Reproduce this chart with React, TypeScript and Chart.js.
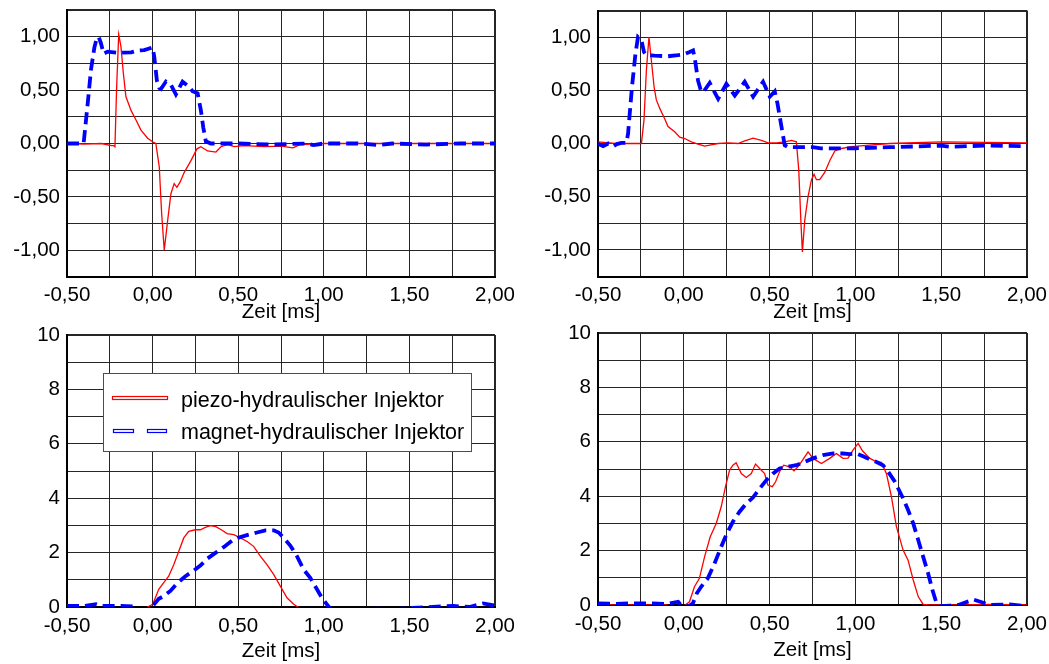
import React, { useEffect, useRef } from 'react';
import { Chart, registerables } from 'chart.js';

Chart.register(...registerables);

// ---------- text ----------
const seriesNames = ['piezo-hydraulischer Injektor', 'magnet-hydraulischer Injektor'];
const axisTitle = 'Zeit [ms]';
const xLabelValues = [-0.5, 0, 0.5, 1.0, 1.5, 2.0];
const xLabelTexts = ['-0,50', '0,00', '0,50', '1,00', '1,50', '2,00'];
const topYLabelValues = [-1, -0.5, 0, 0.5, 1];
const topYLabelTexts = ['-1,00', '-0,50', '0,00', '0,50', '1,00'];
const bottomYLabelValues = [0, 2, 4, 6, 8, 10];
const bottomYLabelTexts = ['0', '2', '4', '6', '8', '10'];

// ---------- top-left ----------
const tlMagnetT = [-0.5, -0.45, -0.403, -0.379, -0.36, -0.34, -0.327, -0.315, -0.302, -0.286, -0.263, -0.204, -0.126, -0.088, -0.049, -0.02, 0.0, 0.01, 0.025, 0.039, 0.049, 0.078, 0.107, 0.136, 0.175, 0.214, 0.233, 0.263, 0.282, 0.296, 0.311, 0.34, 0.5, 0.7, 0.9, 0.94, 1.0, 1.2, 1.32, 1.4, 1.6, 1.8, 2.0];
const tlMagnetV = [0.0, 0.0, 0.0, 0.375, 0.69, 0.9, 0.98, 1.0, 0.94, 0.84, 0.86, 0.85, 0.853, 0.87, 0.875, 0.89, 0.9, 0.81, 0.59, 0.52, 0.51, 0.58, 0.55, 0.46, 0.58, 0.53, 0.49, 0.47, 0.31, 0.15, 0.02, 0.0, 0.0, -0.01, 0.0, -0.015, 0.0, 0.0, -0.015, 0.0, -0.01, 0.0, 0.0];
const tlPiezoT = [-0.5, -0.4, -0.3, -0.24, -0.228, -0.22, -0.21, -0.198, -0.185, -0.171, -0.156, -0.126, -0.097, -0.068, -0.029, 0.0, 0.019, 0.039, 0.053, 0.068, 0.088, 0.107, 0.126, 0.142, 0.161, 0.185, 0.224, 0.259, 0.282, 0.321, 0.37, 0.399, 0.438, 0.477, 0.535, 0.652, 0.75, 0.82, 0.86, 1.0, 1.5, 2.0];
const tlPiezoV = [0.0, -0.005, 0.0, -0.02, -0.02, -0.03, 0.53, 1.02, 0.91, 0.66, 0.44, 0.31, 0.22, 0.125, 0.05, 0.016, 0.0, -0.22, -0.66, -1.0, -0.72, -0.47, -0.375, -0.41, -0.36, -0.27, -0.16, -0.05, -0.03, -0.07, -0.08, -0.03, -0.01, -0.03, -0.02, -0.03, -0.025, -0.04, -0.01, 0.0, 0.0, 0.0];

// ---------- top-right ----------
const trMagnetT = [-0.5, -0.49, -0.47, -0.44, -0.41, -0.39, -0.364, -0.335, -0.325, -0.302, -0.282, -0.267, -0.247, -0.232, -0.218, -0.17, -0.092, -0.034, 0.005, 0.034, 0.054, 0.064, 0.083, 0.099, 0.112, 0.151, 0.2, 0.248, 0.297, 0.355, 0.404, 0.462, 0.501, 0.53, 0.546, 0.569, 0.588, 0.608, 0.75, 0.8, 1.0, 1.2, 1.5, 1.55, 1.75, 2.0];
const trMagnetV = [0.0, -0.01, -0.025, 0.0, -0.025, -0.005, 0.005, 0.005, 0.09, 0.53, 0.84, 1.0, 0.97, 0.86, 0.83, 0.825, 0.82, 0.83, 0.84, 0.86, 0.875, 0.8, 0.59, 0.5, 0.48, 0.57, 0.42, 0.56, 0.45, 0.58, 0.44, 0.58, 0.44, 0.49, 0.375, 0.16, -0.016, -0.035, -0.035, -0.045, -0.045, -0.035, -0.02, -0.03, -0.02, -0.025];
const trPiezoT = [-0.5, -0.4, -0.3, -0.247, -0.232, -0.218, -0.203, -0.189, -0.173, -0.16, -0.14, -0.111, -0.092, -0.053, -0.024, 0.005, 0.044, 0.083, 0.122, 0.151, 0.2, 0.258, 0.316, 0.355, 0.404, 0.452, 0.491, 0.54, 0.588, 0.627, 0.656, 0.67, 0.682, 0.691, 0.705, 0.724, 0.744, 0.759, 0.773, 0.792, 0.822, 0.851, 0.88, 0.919, 0.977, 1.2, 1.5, 1.75, 2.0];
const trPiezoV = [0.015, 0.0, 0.0, 0.0, 0.22, 0.69, 1.0, 0.78, 0.53, 0.41, 0.33, 0.23, 0.16, 0.11, 0.06, 0.047, 0.016, -0.005, -0.025, -0.016, 0.0, 0.006, 0.0, 0.025, 0.05, 0.03, 0.006, 0.006, 0.016, 0.03, 0.016, -0.25, -0.72, -1.02, -0.72, -0.5, -0.34, -0.29, -0.34, -0.34, -0.27, -0.16, -0.07, -0.047, -0.03, 0.0, 0.015, 0.01, 0.005];

// ---------- bottom-left ----------
const blMagnetT = [-0.5, -0.4, -0.33, -0.3, -0.2, -0.1, -0.053, -0.032, 0.001, 0.036, 0.065, 0.104, 0.143, 0.192, 0.24, 0.279, 0.318, 0.367, 0.415, 0.464, 0.513, 0.561, 0.61, 0.659, 0.707, 0.736, 0.766, 0.804, 0.843, 0.882, 0.921, 0.96, 0.989, 1.018, 1.038, 1.077, 1.135, 1.3, 1.407, 1.55, 1.757, 1.85, 1.93, 2.0];
const blMagnetV = [0.04, 0.04, 0.1, 0.04, 0.04, 0.02, -0.15, -0.12, 0.04, 0.3, 0.4, 0.59, 0.87, 1.13, 1.34, 1.52, 1.77, 1.99, 2.2, 2.44, 2.57, 2.66, 2.74, 2.82, 2.82, 2.74, 2.54, 2.26, 1.87, 1.38, 1.07, 0.65, 0.34, 0.1, -0.06, -0.11, -0.1, -0.06, -0.08, -0.02, 0.04, 0.0, 0.13, 0.05];
const blPiezoT = [-0.5, -0.4, -0.3, -0.2, -0.12, -0.07, -0.03, 0.001, 0.036, 0.065, 0.094, 0.124, 0.153, 0.182, 0.211, 0.25, 0.279, 0.308, 0.338, 0.367, 0.406, 0.435, 0.474, 0.513, 0.552, 0.59, 0.629, 0.668, 0.707, 0.746, 0.785, 0.824, 0.863, 0.94, 1.057, 1.2, 1.4, 1.6, 1.8, 2.0];
const blPiezoV = [-0.05, -0.02, -0.08, -0.05, -0.1, -0.15, 0.0, 0.1, 0.65, 0.9, 1.13, 1.56, 2.05, 2.54, 2.78, 2.84, 2.84, 2.93, 2.99, 2.96, 2.82, 2.7, 2.66, 2.54, 2.41, 2.23, 1.87, 1.56, 1.2, 0.77, 0.34, 0.1, -0.06, -0.08, -0.08, -0.1, -0.06, -0.1, -0.08, -0.1];

// ---------- bottom-right ----------
const brMagnetT = [-0.5, -0.4, -0.3, -0.2, -0.1, -0.033, -0.01, 0.01, 0.03, 0.053, 0.076, 0.101, 0.14, 0.179, 0.218, 0.251, 0.286, 0.325, 0.364, 0.403, 0.442, 0.481, 0.519, 0.558, 0.607, 0.656, 0.704, 0.753, 0.811, 0.87, 0.928, 0.967, 1.006, 1.045, 1.084, 1.123, 1.161, 1.191, 1.23, 1.278, 1.307, 1.337, 1.366, 1.395, 1.424, 1.449, 1.473, 1.492, 1.551, 1.6, 1.689, 1.786, 1.9, 2.0];
const brMagnetV = [0.06, 0.04, 0.06, 0.06, 0.04, 0.12, -0.06, -0.06, -0.04, 0.06, 0.43, 0.67, 0.98, 1.53, 2.14, 2.63, 3.06, 3.43, 3.73, 3.95, 4.28, 4.59, 4.83, 5.02, 5.08, 5.14, 5.26, 5.39, 5.51, 5.57, 5.57, 5.55, 5.57, 5.47, 5.35, 5.26, 5.14, 4.9, 4.53, 3.92, 3.49, 3.0, 2.39, 1.77, 1.16, 0.55, 0.06, -0.04, -0.02, 0.0, 0.2, 0.0, 0.02, -0.05];
const brPiezoT = [-0.5, -0.3, -0.1, -0.055, 0.0, 0.033, 0.062, 0.091, 0.121, 0.154, 0.189, 0.218, 0.243, 0.267, 0.286, 0.305, 0.335, 0.364, 0.393, 0.418, 0.442, 0.471, 0.49, 0.516, 0.535, 0.558, 0.582, 0.617, 0.642, 0.665, 0.695, 0.724, 0.753, 0.802, 0.85, 0.889, 0.928, 0.957, 0.986, 1.016, 1.041, 1.084, 1.123, 1.152, 1.181, 1.21, 1.239, 1.278, 1.307, 1.337, 1.366, 1.395, 1.434, 1.6, 1.8, 2.0];
const brPiezoV = [0.0, 0.0, 0.0, -0.08, -0.04, 0.12, 0.67, 0.98, 1.77, 2.51, 3.0, 3.61, 4.35, 4.96, 5.14, 5.23, 4.83, 4.69, 4.83, 5.18, 5.02, 4.83, 4.41, 4.35, 4.53, 4.9, 5.14, 5.08, 4.93, 5.08, 5.35, 5.63, 5.39, 5.2, 5.39, 5.57, 5.39, 5.4, 5.69, 5.94, 5.67, 5.39, 5.26, 5.24, 4.83, 3.98, 2.88, 2.02, 1.65, 0.92, 0.31, 0.02, 0.0, 0.0, 0.02, 0.0];

// ---------- layout / style ----------
const PAGE_W = 1049;
const PAGE_H = 664;
const Y_AXIS_W = 67;
const FONT = { family: '"Liberation Sans", Arial, Helvetica, sans-serif', size: 20.5 };
const GRID_COLOR = '#262626';
const RED = '#ff0000';
const BLUE = '#0000ff';

type Panel = {
  area: { l: number; t: number; r: number; b: number };
  xAxisH: number;
  tickPad: number;
  yMin: number;
  yMax: number;
  yStep: number;
  yVals: number[];
  yTexts: string[];
  magT: number[];
  magV: number[];
  pieT: number[];
  pieV: number[];
  legend: boolean;
};

const panels: Panel[] = [
  { area: { l: 67, t: 10, r: 495, b: 277 }, xAxisH: 47.5, tickPad: 6, yMin: -1.25, yMax: 1.25, yStep: 0.25, yVals: topYLabelValues, yTexts: topYLabelTexts, magT: tlMagnetT, magV: tlMagnetV, pieT: tlPiezoT, pieV: tlPiezoV, legend: false },
  { area: { l: 598, t: 10.5, r: 1027, b: 276.5 }, xAxisH: 48, tickPad: 6.5, yMin: -1.25, yMax: 1.25, yStep: 0.25, yVals: topYLabelValues, yTexts: topYLabelTexts, magT: trMagnetT, magV: trMagnetV, pieT: trPiezoT, pieV: trPiezoV, legend: false },
  { area: { l: 67, t: 335, r: 495, b: 607 }, xAxisH: 57, tickPad: 7.5, yMin: 0, yMax: 10, yStep: 1, yVals: bottomYLabelValues, yTexts: bottomYLabelTexts, magT: blMagnetT, magV: blMagnetV, pieT: blPiezoT, pieV: blPiezoV, legend: true },
  { area: { l: 598, t: 333, r: 1027, b: 605 }, xAxisH: 58, tickPad: 7.5, yMin: 0, yMax: 10, yStep: 1, yVals: bottomYLabelValues, yTexts: bottomYLabelTexts, magT: brMagnetT, magV: brMagnetV, pieT: brPiezoT, pieV: brPiezoV, legend: false },
];

function toXY(t: number[], v: number[]) {
  return t.map((x, i) => ({ x, y: v[i] }));
}

function pickLabel(value: number, vals: number[], texts: string[]) {
  for (let i = 0; i < vals.length; i++) {
    if (Math.abs(vals[i] - value) < 1e-6) return texts[i];
  }
  return '';
}

const legendPlugin = {
  id: 'boxLegend',
  afterDatasetsDraw(chart: any) {
    const ctx = chart.ctx as CanvasRenderingContext2D;
    ctx.save();
    ctx.fillStyle = '#ffffff';
    ctx.fillRect(103, 373, 368, 78);
    ctx.strokeStyle = '#4d4d4d';
    ctx.lineWidth = 1;
    ctx.strokeRect(103.5, 373.5, 368, 78);
    // red sample
    ctx.strokeStyle = RED;
    ctx.lineWidth = 1.2;
    ctx.strokeRect(112.5, 396.5, 55, 3);
    // blue dashed sample
    ctx.strokeStyle = BLUE;
    ctx.strokeRect(113.5, 429.5, 20, 3);
    ctx.strokeRect(147.5, 429.5, 19, 3);
    ctx.fillStyle = '#000';
    ctx.font = `21.5px ${FONT.family}`;
    ctx.textBaseline = 'middle';
    ctx.textAlign = 'left';
    ctx.fillText(seriesNames[0], 181, 401);
    ctx.fillText(seriesNames[1], 181, 433);
    ctx.restore();
  },
};

function makeConfig(p: Panel): any {
  const edgeWidth = (c: any) => {
    const n = c.scale && c.scale.ticks ? c.scale.ticks.length - 1 : 10;
    return c.index === 0 || c.index === n ? 2 : 1;
  };
  return {
    type: 'line',
    data: {
      datasets: [
        {
          label: seriesNames[1],
          data: toXY(p.magT, p.magV),
          borderColor: BLUE,
          borderWidth: 3.8,
          borderDash: [12, 6],
          pointRadius: 0,
          fill: false,
          tension: 0,
        },
        {
          label: seriesNames[0],
          data: toXY(p.pieT, p.pieV),
          borderColor: RED,
          borderWidth: 1.3,
          pointRadius: 0,
          fill: false,
          tension: 0,
        },
      ],
    },
    options: {
      responsive: false,
      animation: false,
      events: [],
      layout: {
        padding: {
          left: p.area.l - Y_AXIS_W,
          top: p.area.t,
          right: PAGE_W - p.area.r,
          bottom: PAGE_H - p.area.b - p.xAxisH,
        },
      },
      plugins: { legend: { display: false }, tooltip: { enabled: false } },
      scales: {
        x: {
          type: 'linear',
          min: -0.5,
          max: 2.0,
          afterFit: (s: any) => {
            s.height = p.xAxisH;
            s.paddingLeft = 0;
            s.paddingRight = 0;
          },
          ticks: {
            stepSize: 0.25,
            autoSkip: false,
            maxRotation: 0,
            minRotation: 0,
            padding: p.tickPad,
            color: '#000',
            font: FONT,
            callback: (v: number) => pickLabel(v, xLabelValues, xLabelTexts),
          },
          grid: { color: GRID_COLOR, lineWidth: edgeWidth, drawTicks: false },
          border: { color: '#000', width: 2 },
          title: { display: true, text: axisTitle, color: '#000', font: FONT, padding: { top: 0, bottom: 0 } },
        },
        y: {
          type: 'linear',
          min: p.yMin,
          max: p.yMax,
          afterFit: (s: any) => {
            s.width = Y_AXIS_W;
            s.paddingTop = 0;
            s.paddingBottom = 0;
          },
          ticks: {
            stepSize: p.yStep,
            autoSkip: false,
            padding: 7,
            color: '#000',
            font: FONT,
            callback: (v: number) => pickLabel(v, p.yVals, p.yTexts),
          },
          grid: { color: GRID_COLOR, lineWidth: edgeWidth, drawTicks: false },
          border: { color: '#000', width: 2 },
        },
      },
    },
    plugins: p.legend ? [legendPlugin] : [],
  };
}

function PanelCanvas({ panel }: { panel: Panel }) {
  const ref = useRef<HTMLCanvasElement | null>(null);
  useEffect(() => {
    if (!ref.current) return;
    const chart = new Chart(ref.current, makeConfig(panel));
    return () => chart.destroy();
  }, [panel]);
  return (
    <canvas
      ref={ref}
      width={PAGE_W}
      height={PAGE_H}
      style={{ position: 'absolute', left: 0, top: 0, width: PAGE_W, height: PAGE_H }}
    />
  );
}

export default function App() {
  return (
    <div style={{ position: 'fixed', left: 0, top: 0, width: PAGE_W, height: PAGE_H, background: '#ffffff' }}>
      {panels.map((p, i) => (
        <PanelCanvas key={i} panel={p} />
      ))}
    </div>
  );
}
